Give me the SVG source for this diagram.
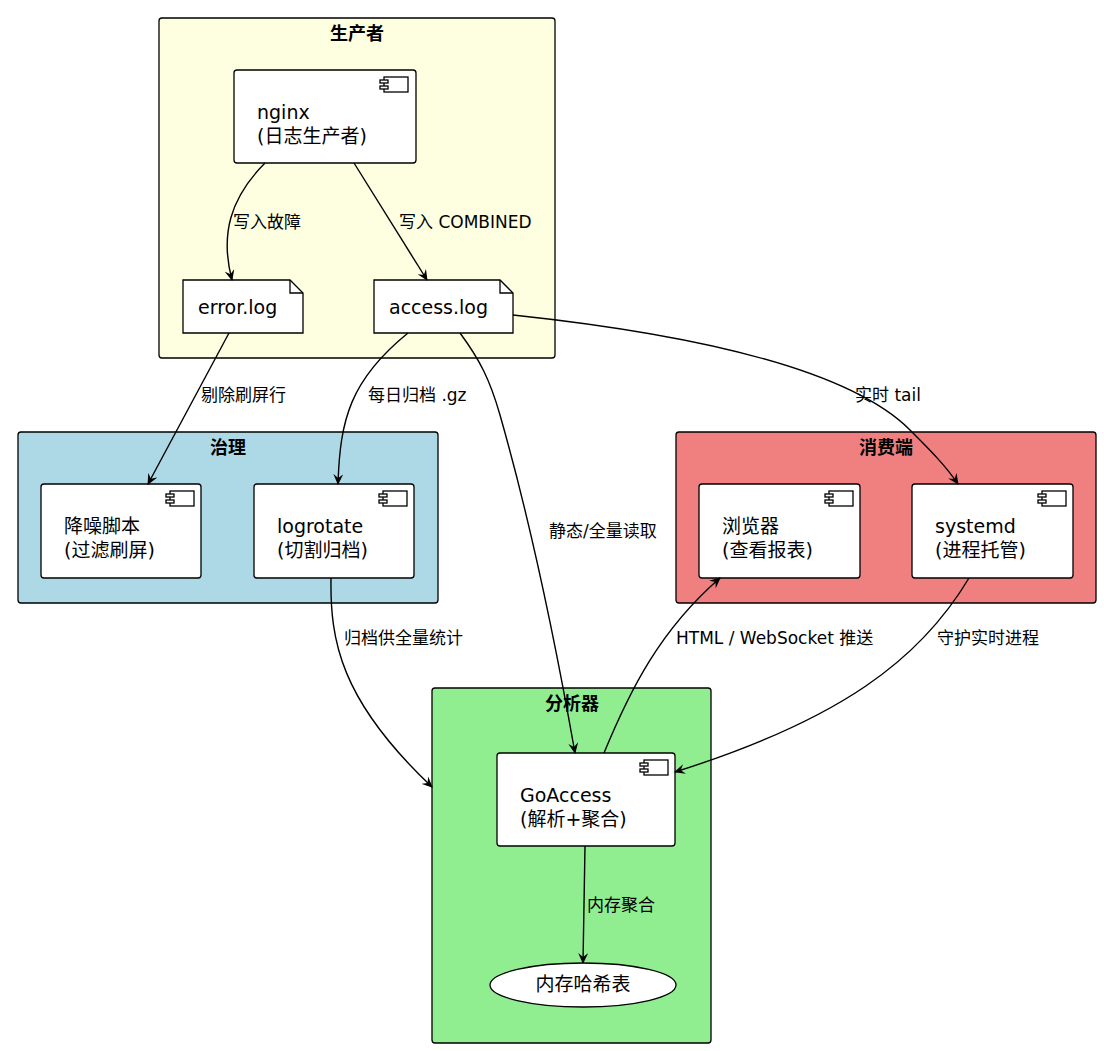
<svg xmlns="http://www.w3.org/2000/svg" width="1104" height="1051" viewBox="0 0 1104 1051">
<defs>
<marker id="ar" markerWidth="12" markerHeight="10" refX="10" refY="5" orient="auto" markerUnits="userSpaceOnUse"><path d="M0,0 L11,5 L0,10 L4,5 Z" fill="#000"/></marker>
<g id="ic"><rect x="0" y="0" width="24" height="15" fill="#fff" stroke="#000" stroke-width="1.3"/><rect x="-4" y="3" width="8" height="3" fill="#fff" stroke="#000" stroke-width="1.3"/><rect x="-4" y="9" width="8" height="3" fill="#fff" stroke="#000" stroke-width="1.3"/></g>
</defs>
<style>
text{font-family:"DejaVu Sans","Noto Sans CJK SC",sans-serif;fill:#000}
.pk{stroke:#000;stroke-width:1.3}
.t{font-size:18px;font-weight:bold;text-anchor:middle}
.n{fill:#fff;stroke:#000;stroke-width:1.3}
.l{font-size:19px}
.e{font-size:17px}
.c{fill:none;stroke:#000;stroke-width:1.4;marker-end:url(#ar)}
</style>
<g id="producer"><rect class="pk" x="159" y="18" width="396" height="340" rx="3" fill="#FEFEE0"/><text class="t" x="357" y="40">生产者</text></g>
<g id="gov"><rect class="pk" x="18" y="432" width="420" height="171" rx="3" fill="#ADD8E6"/><text class="t" x="228" y="454">治理</text></g>
<g id="cons"><rect class="pk" x="676" y="432" width="420" height="171" rx="3" fill="#F08080"/><text class="t" x="886" y="454">消费端</text></g>
<g id="ana"><rect class="pk" x="432" y="688" width="279" height="355" rx="3" fill="#90EE90"/><text class="t" x="572" y="710">分析器</text></g>
<g id="nginx"><rect class="n" x="234" y="70" width="182" height="93" rx="3"/><use href="#ic" x="384" y="77"/><text class="l" x="257" y="119">nginx</text><text class="l" x="257" y="143">(日志生产者)</text></g>
<g id="errorlog"><path class="n" d="M183,280 H290 L303,293 V333 H183 Z"/><path d="M290,280 V293 H303" fill="none" stroke="#000" stroke-width="1.3"/><text class="l" x="198" y="314">error.log</text></g>
<g id="accesslog"><path class="n" d="M374,280 H500 L513,293 V333 H374 Z"/><path d="M500,280 V293 H513" fill="none" stroke="#000" stroke-width="1.3"/><text class="l" x="389" y="314">access.log</text></g>
<g id="denoise"><rect class="n" x="41" y="484" width="160" height="94" rx="3"/><use href="#ic" x="170" y="491"/><text class="l" x="64" y="533">降噪脚本</text><text class="l" x="64" y="557">(过滤刷屏)</text></g>
<g id="logrotate"><rect class="n" x="254" y="484" width="160" height="94" rx="3"/><use href="#ic" x="383" y="491"/><text class="l" x="277" y="533">logrotate</text><text class="l" x="277" y="557">(切割归档)</text></g>
<g id="browser"><rect class="n" x="699" y="484" width="161" height="94" rx="3"/><use href="#ic" x="829" y="491"/><text class="l" x="722" y="533">浏览器</text><text class="l" x="722" y="557">(查看报表)</text></g>
<g id="systemd"><rect class="n" x="912" y="484" width="161" height="94" rx="3"/><use href="#ic" x="1042" y="491"/><text class="l" x="935" y="533">systemd</text><text class="l" x="935" y="557">(进程托管)</text></g>
<g id="goaccess"><rect class="n" x="497" y="753" width="178" height="93" rx="3"/><use href="#ic" x="644" y="760"/><text class="l" x="520" y="802">GoAccess</text><text class="l" x="520" y="826">(解析+聚合)</text></g>
<g id="hash"><ellipse class="n" cx="583" cy="985" rx="93" ry="22"/><text class="l" x="583" y="991" text-anchor="middle">内存哈希表</text></g>
<g id="edges">
<path class="c" d="M265,163 C230,198 220,235 232,280"/><text class="e" x="233" y="228">写入故障</text>
<path class="c" d="M354,163 L427,280"/><text class="e" x="399" y="228">写入 COMBINED</text>
<path class="c" d="M229,333 L148,484"/><text class="e" x="201" y="401">剔除刷屏行</text>
<path class="c" d="M408,333 C350,380 340,420 338,484"/><text class="e" x="368" y="401">每日归档 .gz</text>
<path class="c" d="M460,333 C480,360 490,380 500,415 C530,520 555,640 575,753"/><text class="e" x="549" y="537">静态/全量读取</text>
<path class="c" d="M513,315 C700,335 850,370 910,430 C930,450 945,465 958,484"/><text class="e" x="855" y="401">实时 tail</text>
<path class="c" d="M331,578 C330,640 340,700 432,787"/><text class="e" x="344" y="644">归档供全量统计</text>
<path class="c" d="M604,753 C630,690 660,630 720,578"/><text class="e" x="676" y="644">HTML / WebSocket 推送</text>
<path class="c" d="M969,578 C920,660 840,720 675,772"/><text class="e" x="937" y="644">守护实时进程</text>
<path class="c" d="M585,846 L583,963"/><text class="e" x="587" y="911">内存聚合</text>
</g>
</svg>
